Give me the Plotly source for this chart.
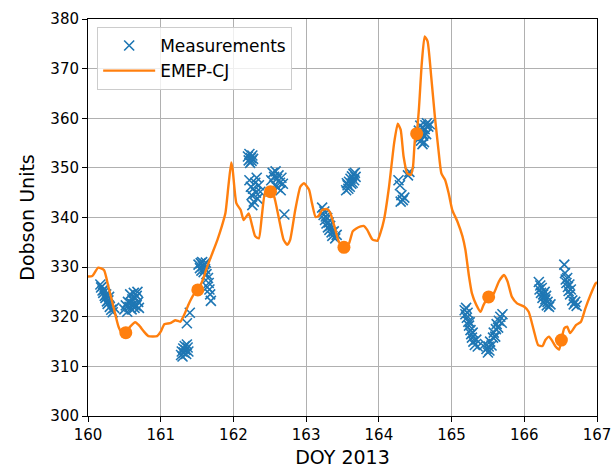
import plotly.graph_objects as go

meas_doy = [
    160.17, 160.18, 160.19, 160.20, 160.21, 160.22, 160.23, 160.24, 160.25, 160.26, 160.27, 160.28, 160.30, 160.32, 160.34, 160.36, 160.29,
    160.50, 160.52, 160.54, 160.55, 160.57, 160.58, 160.60, 160.61, 160.62, 160.63, 160.64, 160.65, 160.66, 160.67, 160.68, 160.69, 160.70, 160.59,
    161.28, 161.29, 161.30, 161.31, 161.32, 161.33, 161.34, 161.35, 161.36, 161.37, 161.38, 161.36, 161.40,
    161.52, 161.54, 161.55, 161.56, 161.57, 161.58, 161.59, 161.60, 161.61, 161.62, 161.63, 161.65, 161.66, 161.67, 161.68, 161.69, 161.64,
    162.20, 162.21, 162.22, 162.23, 162.24, 162.25, 162.26, 162.27,
    162.22, 162.24, 162.25, 162.27, 162.28, 162.30, 162.31, 162.33, 162.35, 162.37, 162.26, 162.32,
    162.52, 162.54, 162.56, 162.57, 162.58, 162.60, 162.61, 162.62, 162.64, 162.65, 162.66, 162.68, 162.70,
    163.22, 163.24, 163.25, 163.26, 163.27, 163.28, 163.29, 163.30, 163.31, 163.32, 163.33, 163.35, 163.36, 163.38, 163.40, 163.42,
    163.55, 163.57, 163.58, 163.59, 163.60, 163.61, 163.62, 163.63, 163.64, 163.65, 163.66, 163.67, 163.68, 163.56,
    164.27, 164.29, 164.31, 164.33, 164.35, 164.40, 164.42, 164.30,
    164.55, 164.56, 164.57, 164.58, 164.59, 164.60, 164.61, 164.62, 164.63, 164.64, 164.65, 164.66, 164.68, 164.70, 164.60,
    165.18, 165.19, 165.20, 165.21, 165.22, 165.23, 165.24, 165.25, 165.26, 165.27, 165.28, 165.29, 165.30, 165.32, 165.34, 165.36,
    165.46, 165.48, 165.50, 165.51, 165.52, 165.53, 165.55, 165.57, 165.58, 165.60, 165.61, 165.62, 165.64, 165.65, 165.67, 165.69, 165.70,
    166.20, 166.21, 166.22, 166.23, 166.24, 166.25, 166.26, 166.27, 166.28, 166.29, 166.30, 166.31, 166.32, 166.34, 166.36,
    166.55, 166.56, 166.57, 166.58, 166.59, 166.60, 166.61, 166.62, 166.63, 166.64, 166.66, 166.68, 166.70, 166.72,
]
meas_du = [
    326.5, 325.9, 326.1, 325.3, 324.8, 325.5, 324.2, 323.8, 324.5, 323.1, 322.6, 323.3, 322.0, 321.4, 320.9, 321.8, 324.0,
    321.5, 322.3, 321.0, 323.0, 322.0, 324.5, 321.5, 323.5, 322.5, 324.8, 321.8, 323.8, 322.2, 324.2, 325.0, 323.0, 321.8, 322.8,
    312.3, 313.0, 312.0, 313.6, 312.8, 314.1, 313.3, 312.5, 314.4, 313.8, 313.0, 318.7, 320.8,
    330.5, 329.8, 330.8, 329.3, 331.0, 330.2, 329.0, 330.6, 329.6, 330.9, 328.6, 327.8, 326.8, 325.5, 324.5, 323.2, 326.0,
    352.3, 351.5, 352.8, 351.0, 352.0, 351.4, 352.5, 351.8,
    347.5, 346.2, 344.5, 345.8, 343.2, 347.0, 345.0, 343.8, 346.5, 345.2, 342.5, 348.0,
    347.5, 349.0, 348.2, 346.5, 349.3, 347.8, 346.0, 348.5, 347.0, 345.5, 348.0, 346.8, 340.6,
    342.0, 340.5, 341.2, 339.5, 340.2, 338.8, 339.9, 338.0, 339.0, 337.5, 338.3, 337.0, 336.3, 337.2, 335.8, 336.5,
    345.5, 346.5, 345.8, 347.2, 346.2, 347.8, 346.8, 348.3, 347.0, 348.8, 347.5, 349.0, 348.2, 346.9,
    347.5, 346.5, 344.5, 343.5, 344.0, 348.5, 349.2, 343.2,
    357.5, 356.0, 358.5, 355.5, 357.0, 358.0, 356.5, 355.2, 357.8, 358.6, 356.8, 359.0, 358.3, 358.8, 354.8,
    321.3, 320.5, 321.8, 319.8, 320.8, 319.0, 318.2, 318.9, 317.3, 316.5, 315.8, 316.8, 315.0, 314.3, 315.4, 314.0,
    314.5, 313.5, 312.8, 314.0, 313.2, 315.0, 314.2, 315.8, 316.8, 316.0, 317.5, 318.5, 317.8, 319.2, 320.0, 318.8, 320.5,
    327.0, 325.5, 326.3, 324.8, 325.8, 323.8, 324.5, 322.8, 325.0, 323.5, 324.2, 322.3, 323.0, 322.0, 322.5,
    330.5, 328.8, 327.5, 326.8, 327.8, 326.0, 325.2, 326.5, 324.5, 325.5, 323.3, 322.5, 323.0, 322.2,
]

# EMEP-CJ model line
model_doy = [
    160.00, 160.06, 160.14, 160.22, 160.28, 160.35, 160.42, 160.47, 160.52, 160.58, 160.65, 160.70, 160.77, 160.83,
    160.95, 161.00, 161.05, 161.13, 161.20, 161.27, 161.32, 161.39, 161.45, 161.51, 161.57, 161.64, 161.71, 161.78,
    161.84, 161.89, 161.93, 161.97, 161.99, 162.04, 162.10, 162.14, 162.21, 162.26, 162.30, 162.35, 162.39, 162.44,
    162.51, 162.56, 162.62, 162.69, 162.74, 162.78, 162.85, 162.92, 162.97, 163.04, 163.08, 163.13, 163.17, 163.22,
    163.29, 163.33, 163.39, 163.45, 163.52, 163.59, 163.64, 163.69, 163.75, 163.79, 163.84, 163.91, 163.98, 164.02,
    164.07, 164.14, 164.21, 164.26, 164.30, 164.34, 164.39, 164.44, 164.47, 164.50, 164.52, 164.55, 164.59, 164.63,
    164.67, 164.72, 164.77, 164.82, 164.86, 164.91, 164.96, 165.01, 165.08, 165.15, 165.19, 165.24, 165.28, 165.34,
    165.40, 165.44, 165.51, 165.58, 165.65, 165.72, 165.77, 165.83, 165.90, 166.00, 166.06, 166.13, 166.19, 166.25,
    166.29, 166.34, 166.39, 166.43, 166.48, 166.51, 166.55, 166.59, 166.63, 166.71, 166.78, 166.84, 166.91, 166.98,
    167.00,
]
model_du = [
    328.1, 328.2, 329.9, 329.4, 326.1, 322.0, 318.0, 316.7, 316.8, 318.0, 318.9, 318.3, 317.0, 316.1,
    316.1, 317.0, 318.5, 318.7, 319.3, 319.0, 320.3, 322.7, 324.4, 325.4, 327.1, 330.1, 332.8, 335.5,
    338.2, 340.9, 346.2, 351.1, 349.6, 342.9, 341.5, 339.5, 340.8, 338.2, 336.2, 335.8, 340.2, 345.2,
    345.2, 344.2, 340.2, 335.5, 334.5, 335.5, 341.5, 346.2, 346.9, 345.6, 342.9, 340.1, 340.3, 341.5,
    341.7, 341.0, 338.2, 335.1, 334.0, 334.8, 337.2, 337.8, 338.2, 338.3, 337.5, 335.6, 335.3, 336.8,
    339.5, 346.2, 355.0, 358.9, 357.7, 352.3, 348.9, 348.6, 350.3, 356.3, 356.9, 361.7, 371.0, 376.5,
    375.5, 368.4, 360.4, 353.6, 348.9, 347.6, 344.9, 341.5, 339.2, 336.2, 333.5, 328.1, 324.7, 322.4,
    321.0, 322.4, 324.0, 324.7, 327.1, 328.4, 327.1, 324.0, 322.7, 322.0, 321.0, 317.3, 314.3, 314.1,
    315.3, 316.0, 315.0, 314.0, 313.4, 315.3, 317.7, 318.0, 316.7, 318.3, 319.0, 321.7, 324.4, 326.7,
    327.0,
]

# Daily means of the model (big orange dots)
daily_doy = [160.52, 161.51, 162.51, 163.52, 164.52, 165.51, 166.51]
daily_du = [316.8, 325.4, 345.2, 334.0, 356.9, 324.0, 315.3]

x_ticks = [160, 161, 162, 163, 164, 165, 166, 167]
y_ticks = [300, 310, 320, 330, 340, 350, 360, 370, 380]

BLUE = "#1f77b4"
ORANGE = "#ff7f0e"
FONT = "DejaVu Sans"

fig = go.Figure()
fig.add_trace(go.Scatter(
    x=meas_doy, y=meas_du, mode="markers", name="Measurements",
    marker=dict(symbol="x-thin", size=10, line=dict(color=BLUE, width=1.6), color=BLUE),
))
fig.add_trace(go.Scatter(
    x=model_doy, y=model_du, mode="lines", name="EMEP-CJ",
    line=dict(color=ORANGE, width=2.4, shape="spline", smoothing=0.5),
))
fig.add_trace(go.Scatter(
    x=daily_doy, y=daily_du, mode="markers", showlegend=False,
    marker=dict(symbol="circle", size=13, color=ORANGE),
))

axis_common = dict(
    showline=True, linecolor="black", linewidth=1, mirror=True,
    ticks="outside", ticklen=5, tickcolor="black", tickwidth=1,
    showgrid=True, gridcolor="#b0b0b0", gridwidth=1, zeroline=False,
    tickfont=dict(family=FONT, size=15, color="black"),
    automargin=False,
)

fig.update_layout(
    width=614, height=472,
    margin=dict(l=88, r=17, t=19, b=56),
    paper_bgcolor="white", plot_bgcolor="white",
    font=dict(family=FONT, color="black"),
    xaxis=dict(range=[160, 167], tickvals=x_ticks, ticktext=[str(v) for v in x_ticks],
               title=dict(text="DOY 2013", font=dict(family=FONT, size=19), standoff=7),
               **axis_common),
    yaxis=dict(range=[300, 380], tickvals=y_ticks, ticktext=[str(v) for v in y_ticks],
               title=dict(text="Dobson Units", font=dict(family=FONT, size=19), standoff=10),
               **axis_common),
    legend=dict(x=0.018, y=0.98, xanchor="left", yanchor="top",
                bgcolor="rgba(255,255,255,0.8)", bordercolor="#cccccc", borderwidth=1,
                font=dict(family=FONT, size=17, color="black"),
                itemwidth=52, tracegroupgap=0),
    showlegend=True,
)

fig.write_html("out.html")
